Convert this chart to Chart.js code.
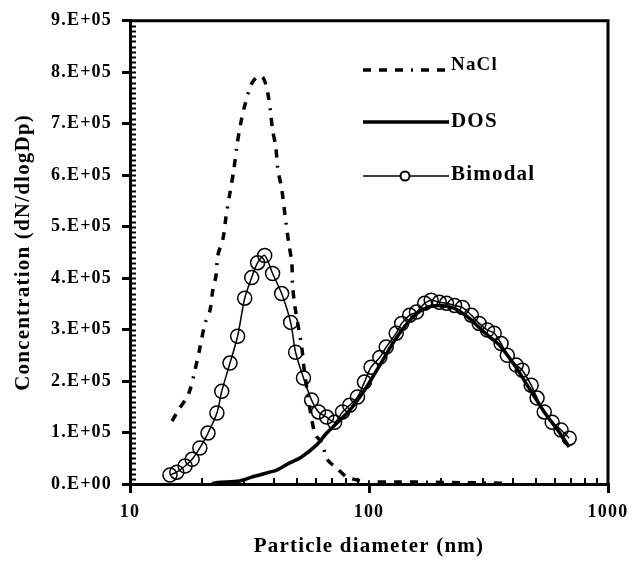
<!DOCTYPE html>
<html>
<head>
<meta charset="utf-8">
<script src="https://cdn.jsdelivr.net/npm/chart.js@4.4.1/dist/chart.umd.min.js"></script>
<style>
  html, body { margin: 0; padding: 0; background: #fff; }
  #psd { display: block; }
</style>
</head>
<body>
<canvas id="psd" width="643" height="563"></canvas>
<script>
// particle size distributions
var naclD = [15.0, 15.9, 17.0, 17.8, 18.7, 19.6, 20.6, 21.6, 22.2, 22.9, 23.3, 24.5, 25.2, 26.2, 27.2, 28.0, 29.1, 30.2, 32.3, 34.6, 36.3, 37.7, 38.8, 39.5, 40.7, 41.5, 43.1, 44.8, 46.1, 47.5, 47.9, 48.9, 52.3, 53.8, 59.2, 63.4, 67.1, 73.2, 80.5, 88.7, 100, 130, 180, 250, 370];
var naclN = [122000, 143000, 163000, 182000, 221000, 264000, 312000, 337000, 376000, 405000, 444000, 477000, 518000, 566000, 611000, 657000, 702000, 735000, 778000, 793000, 787000, 760000, 720000, 687000, 657000, 613000, 574000, 512000, 469000, 431000, 386000, 347000, 266000, 215000, 99000, 80000, 47000, 31000, 14000, 8000, 4000, 4000, 3500, 2500, 1500];

var dosD = [22.0, 23.3, 28.8, 32.6, 38.4, 41.1, 46.6, 52.0, 60.4, 66.5, 73.2, 83.0, 95.7, 111, 128, 148, 171, 197, 228, 263, 303, 351, 406, 468, 541, 624, 688];
var dosN = [1000, 3000, 6000, 14000, 23000, 27000, 41000, 52000, 76000, 99000, 118000, 143000, 182000, 231000, 279000, 318000, 341000, 347000, 341000, 322000, 295000, 270000, 231000, 186000, 140000, 101000, 72000];

var bimodalD = [14.7, 15.7, 17.0, 18.2, 19.6, 21.2, 23.1, 24.2, 26.2, 28.2, 30.2, 32.3, 34.2, 36.6, 39.5, 43.1, 47.0, 49.3, 53.2, 57.5, 61.5, 66.5, 71.8, 77.5, 83.0, 89.5, 95.7, 102, 111, 118, 130, 137, 148, 158, 171, 182, 197, 211, 228, 246, 268, 289, 313, 334, 357, 379, 413, 438, 477, 505, 541, 584, 636, 688];
var bimodalN = [17500, 23000, 35000, 48000, 70000, 99000, 138000, 180000, 235000, 287000, 361000, 401000, 430000, 444000, 409000, 370000, 314000, 256000, 206000, 163000, 140000, 130000, 120000, 140000, 153000, 169000, 198000, 227000, 246000, 266000, 293000, 312000, 328000, 334000, 351000, 357000, 353000, 351000, 347000, 343000, 328000, 312000, 299000, 293000, 273000, 250000, 231000, 221000, 192000, 167000, 140000, 120000, 105000, 89000];

var seriesNames = ['NaCl', 'DOS', 'Bimodal'];
var xTickValues = [10, 100, 1000];
var xMinorValues = [20, 30, 40, 50, 60, 70, 80, 90, 200, 300, 400, 500, 600, 700, 800, 900];

var serif = "'Liberation Serif', 'Times New Roman', serif";

function pts(xs, ys) {
  return xs.map(function(x, i) { return {x: x, y: ys[i]}; });
}

// Excel-ish wide letter spacing
var spacingPlugin = {
  id: 'spacing',
  beforeLayout: function(chart) { chart.ctx.letterSpacing = '1.2px'; },
  beforeDraw: function(chart) { chart.ctx.letterSpacing = '1.2px'; }
};

// top / right frame and the small inside ticks
var framePlugin = {
  id: 'frame',
  afterDraw: function(chart) {
    var ctx = chart.ctx;
    var a = chart.chartArea;
    var xs = chart.scales.x, ys = chart.scales.y;
    ctx.save();
    ctx.strokeStyle = '#000';
    ctx.lineWidth = 3;
    ctx.beginPath();
    ctx.moveTo(a.left, a.top);
    ctx.lineTo(a.right, a.top);
    ctx.lineTo(a.right, a.bottom);
    ctx.stroke();

    ctx.lineWidth = 2;
    ctx.beginPath();
    for (var v = 10000; v < 900000; v += 10000) {
      var py = Math.round(ys.getPixelForValue(v)) + 0.5;
      ctx.moveTo(a.left, py);
      ctx.lineTo(a.left + 6, py);
    }
    xMinorValues.forEach(function(v) {
      var px = Math.round(xs.getPixelForValue(v));
      ctx.moveTo(px, a.bottom);
      ctx.lineTo(px, a.bottom - 6);
    });
    ctx.stroke();
    ctx.restore();
  }
};

// legend sitting inside the plot
var legendRows = [
  {y: 70, textY: 65, size: 19},
  {y: 122, textY: 122, size: 21},
  {y: 176, textY: 175, size: 21}
];
var insideLegend = {
  id: 'insideLegend',
  afterDraw: function(chart) {
    var ctx = chart.ctx;
    ctx.save();
    ctx.letterSpacing = '1.2px';
    chart.data.datasets.forEach(function(ds, i) {
      var row = legendRows[i];
      ctx.strokeStyle = '#000';
      ctx.lineWidth = ds.borderWidth;
      ctx.setLineDash(ds.borderDash || []);
      ctx.beginPath();
      ctx.moveTo(363, row.y);
      ctx.lineTo(449, row.y);
      ctx.stroke();
      ctx.setLineDash([]);
      if (ds.pointRadius > 0) {
        ctx.fillStyle = '#fff';
        ctx.lineWidth = 2;
        ctx.beginPath();
        ctx.arc(405, row.y, 4.5, 0, Math.PI * 2);
        ctx.fill();
        ctx.stroke();
      }
      ctx.fillStyle = '#000';
      ctx.font = 'bold ' + row.size + 'px ' + serif;
      ctx.textBaseline = 'middle';
      ctx.textAlign = 'left';
      ctx.fillText(ds.label, 451, row.textY);
    });
    ctx.restore();
  }
};

window.onload = function() {
  var ctx = document.getElementById('psd');

  Chart.defaults.font.family = serif;
  Chart.defaults.font.weight = 'bold';
  Chart.defaults.color = '#000';

  new Chart(ctx, {
    type: 'line',
    data: {
      datasets: [
        {
          label: seriesNames[0],
          data: pts(naclD, naclN),
          borderColor: '#000',
          borderWidth: 3.5,
          borderDash: [8, 8, 8, 8, 8, 8, 2, 8],
          pointRadius: 0,
          tension: 0.3,
          order: 1
        },
        {
          label: seriesNames[1],
          data: pts(dosD, dosN),
          borderColor: '#000',
          borderWidth: 3.5,
          pointRadius: 0,
          tension: 0.3,
          order: 2
        },
        {
          label: seriesNames[2],
          data: pts(bimodalD, bimodalN),
          borderColor: '#000',
          borderWidth: 1.5,
          pointRadius: 7,
          pointBorderWidth: 1.5,
          pointBorderColor: '#000',
          pointBackgroundColor: 'rgba(0,0,0,0)',
          tension: 0.3,
          order: 3
        }
      ]
    },
    options: {
      responsive: false,
      animation: false,
      events: [],
      layout: { padding: { left: 0, top: 20, right: 35, bottom: 0 } },
      plugins: {
        legend: { display: false },
        tooltip: { enabled: false }
      },
      scales: {
        x: {
          type: 'logarithmic',
          min: 10,
          max: 1000,
          afterBuildTicks: function(scale) {
            scale.ticks = xTickValues.map(function(v) { return {value: v}; });
          },
          afterFit: function(scale) { scale.height = 79; },
          ticks: {
            font: { size: 18, weight: 'bold' },
            padding: 9,
            maxRotation: 0,
            callback: function(v) { return String(v); }
          },
          grid: {
            drawOnChartArea: false,
            color: '#000',
            lineWidth: 3,
            tickLength: 9
          },
          border: { color: '#000', width: 3 },
          title: {
            display: true,
            text: 'Particle diameter (nm)',
            font: { size: 21, weight: 'bold' },
            padding: { top: 0, bottom: 4 }
          }
        },
        y: {
          min: 0,
          max: 900000,
          afterFit: function(scale) { scale.width = 130; },
          ticks: {
            stepSize: 100000,
            font: { size: 18, weight: 'bold' },
            padding: 10,
            callback: function(v) {
              return Math.round(v / 100000) + '.E+' + (v === 0 ? '00' : '05');
            }
          },
          grid: {
            drawOnChartArea: false,
            color: '#000',
            lineWidth: 3,
            tickLength: 8
          },
          border: { color: '#000', width: 3 },
          title: {
            display: true,
            text: 'Concentration (dN/dlogDp)',
            font: { size: 21, weight: 'bold' },
            padding: { top: 11, bottom: 0 }
          }
        }
      }
    },
    plugins: [spacingPlugin, framePlugin, insideLegend]
  });
};
</script>
</body>
</html>
